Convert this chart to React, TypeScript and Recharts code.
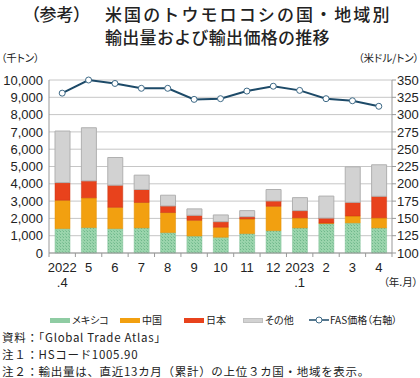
import {
  ComposedChart,
  Bar,
  Line,
  XAxis,
  YAxis,
  CartesianGrid,
} from "recharts";

const months = ["2022", "5", "6", "7", "8", "9", "10", "11", "12", "2023", "2", "3", "4"];
const subLabels = [".4", "", "", "", "", "", "", "", "", ".1", "", "", ""];

// 千トン
const mexico = [1410, 1470, 1410, 1450, 1180, 980, 910, 1120, 1290, 1450, 1700, 1740, 1450];
const china = [1640, 1720, 1230, 1470, 1160, 910, 580, 850, 1410, 580, 30, 400, 580];
const japan = [1020, 980, 1280, 750, 380, 290, 320, 130, 310, 420, 290, 790, 1250];
const others = [2980, 3070, 1600, 830, 620, 370, 390, 350, 660, 750, 1270, 2050, 1820];
// 米ドル/トン
const fasPrice = [331, 350, 345, 338, 338, 322, 323, 334, 341, 335, 323, 320, 312];

const leftTicks = [0, 1000, 2000, 3000, 4000, 5000, 6000, 7000, 8000, 9000, 10000];
const rightTicks = [100, 125, 150, 175, 200, 225, 250, 275, 300, 325, 350];

const data = months.map((m, i) => ({
  m,
  mexico: mexico[i],
  china: china[i],
  japan: japan[i],
  others: others[i],
  fas: fasPrice[i],
}));

const JP = '"Noto Sans CJK JP", "Liberation Sans", sans-serif';
const NUM = '"Liberation Sans", Arial, sans-serif';
const PALT = '"palt"';

const COLORS = {
  mexico: "#8fcca3",
  china: "#f2a010",
  japan: "#e8421c",
  others: "#d2d2d2",
  line: "#1d4a68",
};

const STEP = 343 / 13;

function MonthTick(props: any) {
  const { x, y, payload, index } = props;
  const sub = subLabels[index];
  return (
    <g>
      <line x1={x - STEP / 2} x2={x - STEP / 2} y1={y} y2={y + 4} stroke="#999" />
      {index === months.length - 1 && (
        <line x1={x + STEP / 2} x2={x + STEP / 2} y1={y} y2={y + 4} stroke="#999" />
      )}
      <text x={x} y={y + 19} textAnchor="middle" fontSize={13} fontFamily={NUM} fill="#222">
        {payload.value}
      </text>
      {sub && (
        <text x={x} y={y + 34} textAnchor="middle" fontSize={13} fontFamily={NUM} fill="#222">
          {sub}
        </text>
      )}
    </g>
  );
}

const legendItems = [
  { label: "メキシコ", color: COLORS.mexico, x: 50, tx: 72 },
  { label: "中国", color: COLORS.china, x: 120, tx: 142 },
  { label: "日本", color: COLORS.japan, x: 184, tx: 206 },
  { label: "その他", color: COLORS.others, x: 243, tx: 265 },
];

const noteLines = [
  { text: "資料：「Global Trade Atlas」", top: 330 },
  { text: "注１：HSコード1005.90", top: 347 },
  { text: "注２：輸出量は、直近13カ月（累計）の上位３カ国・地域を表示。", top: 364 },
];

export default function App() {
  return (
    <div
      style={{
        position: "absolute",
        left: 0,
        top: 0,
        width: 420,
        height: 378,
        background: "#fff",
        fontFamily: JP,
        color: "#222",
        overflow: "hidden",
      }}
    >
      <div style={{ position: "absolute", left: 31, top: 3, fontSize: 17, lineHeight: "21px", fontWeight: 500, fontFeatureSettings: PALT }}>
        （参考）
      </div>
      <div style={{ position: "absolute", left: 105, top: 3, fontSize: 17, lineHeight: "21px", letterSpacing: 2.1, fontWeight: 500, whiteSpace: "nowrap" }}>
        米国のトウモロコシの国・地域別
      </div>
      <div style={{ position: "absolute", left: 105, top: 26, fontSize: 17, lineHeight: "21px", letterSpacing: 0.3, fontWeight: 500, whiteSpace: "nowrap" }}>
        輸出量および輸出価格の推移
      </div>
      <div style={{ position: "absolute", left: 1, top: 51, fontSize: 10.5, lineHeight: "14px", fontFeatureSettings: PALT }}>
        （千トン）
      </div>
      <div style={{ position: "absolute", right: 1, top: 51, fontSize: 10.5, lineHeight: "14px", fontFeatureSettings: PALT }}>
        （米ドル/トン）
      </div>

      <div style={{ position: "absolute", left: 0, top: 0 }}>
        <ComposedChart
          width={420}
          height={300}
          data={data}
          margin={{ top: 80, right: 0, bottom: 0, left: 0 }}
          barCategoryGap={0}
        >
          <defs>
            <pattern id="mexPat" width="3" height="3" patternUnits="userSpaceOnUse">
              <rect width="3" height="3" fill="#9ad4ac" />
              <rect x="0" y="0" width="1" height="1" fill="#6fb88b" />
              <rect x="2" y="2" width="1" height="1" fill="#7fc498" />
            </pattern>
          </defs>
          <CartesianGrid vertical={false} stroke="#c6c6c6" yAxisId="left" />
          <XAxis
            dataKey="m"
            height={47}
            interval={0}
            tickLine={false}
            tickSize={0}
            tickMargin={0}
            axisLine={{ stroke: "#999" }}
            tick={<MonthTick />}
          />
          <YAxis
            yAxisId="left"
            width={49}
            domain={[0, 10000]}
            ticks={leftTicks}
            tickFormatter={(v: number) => v.toLocaleString("en-US")}
            tickLine={false}
            tickSize={0}
            tickMargin={6}
            axisLine={{ stroke: "#999" }}
            tick={{ fontSize: 13, fontFamily: NUM, fill: "#222" }}
            interval={0}
          />
          <YAxis
            yAxisId="right"
            orientation="right"
            width={28}
            domain={[100, 350]}
            ticks={rightTicks}
            tickLine={{ stroke: "#999" }}
            tickSize={4}
            tickMargin={1}
            axisLine={{ stroke: "#999" }}
            tick={{ fontSize: 13, fontFamily: NUM, fill: "#222", textAnchor: "start" }}
            interval={0}
          />
          <Bar yAxisId="left" dataKey="mexico" stackId="a" fill="url(#mexPat)" stroke="#7dbf95" strokeWidth={0.5} barSize={15} isAnimationActive={false} />
          <Bar yAxisId="left" dataKey="china" stackId="a" fill={COLORS.china} stroke="#e08e00" strokeWidth={0.5} barSize={15} isAnimationActive={false} />
          <Bar yAxisId="left" dataKey="japan" stackId="a" fill={COLORS.japan} stroke="#c83410" strokeWidth={0.5} barSize={15} isAnimationActive={false} />
          <Bar yAxisId="left" dataKey="others" stackId="a" fill={COLORS.others} stroke="#b0b0b0" strokeWidth={1} barSize={15} isAnimationActive={false} />
          <Line
            yAxisId="right"
            dataKey="fas"
            type="linear"
            stroke={COLORS.line}
            strokeWidth={2}
            dot={{ r: 3, fill: "#fff", stroke: "#3d6986", strokeWidth: 1 }}
            isAnimationActive={false}
          />
        </ComposedChart>
      </div>

      <div style={{ position: "absolute", right: 2, top: 275, fontSize: 10.5, lineHeight: "14px", fontFeatureSettings: PALT, whiteSpace: "nowrap" }}>
        （年.月）
      </div>

      {legendItems.map((it) => (
        <div key={it.label}>
          <div
            style={{
              position: "absolute",
              left: it.x,
              top: 318,
              width: 20,
              height: 5,
              background: it.color,
              border: it.label === "その他" ? "1px solid #c0c0c0" : "none",
              boxSizing: "border-box",
            }}
          />
          <div style={{ position: "absolute", left: it.tx, top: 313, fontSize: 10, lineHeight: "14px", fontFeatureSettings: PALT, whiteSpace: "nowrap" }}>
            {it.label}
          </div>
        </div>
      ))}
      <svg style={{ position: "absolute", left: 309, top: 314 }} width={20} height={12}>
        <line x1={0} x2={20} y1={6} y2={6} stroke={COLORS.line} strokeWidth={1.5} />
        <circle cx={10} cy={6} r={3} fill="#fff" stroke="#3d6986" />
      </svg>
      <div style={{ position: "absolute", left: 330, top: 313, fontSize: 10, lineHeight: "14px", fontFeatureSettings: PALT, whiteSpace: "nowrap" }}>
        FAS価格（右軸）
      </div>

      {noteLines.map((n) => (
        <div
          key={n.top}
          style={{ position: "absolute", left: 2, top: n.top, fontSize: 11.5, lineHeight: "14px", letterSpacing: 0.7, whiteSpace: "nowrap" }}
        >
          {n.text}
        </div>
      ))}
    </div>
  );
}
